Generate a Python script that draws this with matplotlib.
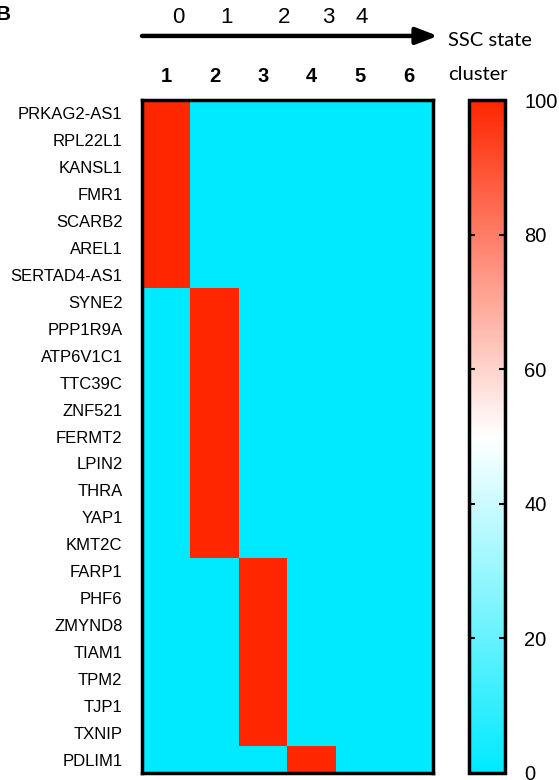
import numpy as np
import matplotlib
matplotlib.use("Agg")
import matplotlib.pyplot as plt
from matplotlib.colors import LinearSegmentedColormap

genes = ["PRKAG2-AS1", "RPL22L1", "KANSL1", "FMR1", "SCARB2", "AREL1", "SERTAD4-AS1",
         "SYNE2", "PPP1R9A", "ATP6V1C1", "TTC39C", "ZNF521", "FERMT2", "LPIN2", "THRA",
         "YAP1", "KMT2C", "FARP1", "PHF6", "ZMYND8", "TIAM1", "TPM2", "TJP1", "TXNIP", "PDLIM1"]
gene_cluster = [1]*7 + [2]*10 + [3]*7 + [4]
clusters = [1, 2, 3, 4, 5, 6]
ssc_states = ["0", "1", "2", "3", "4"]
ssc_x = [0.75, 1.75, 2.93, 3.84, 4.52]  # positions of state labels in cluster-column units
cbar_ticks = [0, 20, 40, 60, 80, 100]

values = np.array([[100 if gene_cluster[i] == c else 0 for c in clusters] for i in range(len(genes))])

cmap = LinearSegmentedColormap.from_list("cw", ["#00EAFF", "#FFFFFF", "#FF2600"])

plt.rcParams['font.family'] = ['Liberation Sans', 'DejaVu Sans']
fig = plt.figure(figsize=(5.59, 7.8), dpi=100)

W, H = 559, 780
def rect(x0, y0, x1, y1):
    return [x0 / W, 1 - y1 / H, (x1 - x0) / W, (y1 - y0) / H]

ax = fig.add_axes(rect(142, 100, 433, 773))
im = ax.imshow(values, cmap=cmap, vmin=0, vmax=100, aspect='auto', interpolation='nearest')
ax.set_yticks(range(len(genes)))
ax.set_yticklabels(genes, fontsize=12)
ax.tick_params(axis='y', length=0, pad=14)
ax.set_xticks(range(len(clusters)))
ax.set_xticklabels([str(c) for c in clusters], fontsize=14.5, fontweight='bold')
ax.xaxis.tick_top()
ax.tick_params(axis='x', length=0, pad=10)
for s in ax.spines.values():
    s.set_linewidth(2.5)

fig.text(448 / W, 1 - 75 / H, "cluster", fontsize=14.5, family=['Lato', 'DejaVu Sans'], va='center', ha='left')
fig.text(448 / W, 1 - 41 / H, "SSC state", fontsize=14.5, family=['Lato', 'DejaVu Sans'], va='center', ha='left')
fig.text(-4 / W, 1 - 14 / H, "B", fontsize=15, fontweight='bold', va='center', ha='left')

# arrow (data coords: row height ~26.9 px, column width 48.5 px)
y_arrow = -2.88
ax.annotate("", xy=(5.6, y_arrow), xytext=(-0.5, y_arrow), xycoords='data', textcoords='data',
            arrowprops=dict(arrowstyle='-|>,head_length=1.3,head_width=0.5', lw=3.2, color='black',
                            shrinkA=0, shrinkB=0, capstyle='round'), annotation_clip=False)
for lab, xp in zip(ssc_states, ssc_x):
    ax.text(xp - 0.5, -3.57, lab, fontsize=16, ha='center', va='center', clip_on=False)

cax = fig.add_axes(rect(469, 100, 505, 773))
cb = fig.colorbar(im, cax=cax, ticks=cbar_ticks)
cb.outline.set_linewidth(2.5)
cax.tick_params(labelsize=14.5, direction='in', length=4, width=1.5, pad=14, left=True, right=True)
cb.ax.set_yticklabels([str(t) for t in cbar_ticks])

fig.savefig("out.png", dpi=100)
